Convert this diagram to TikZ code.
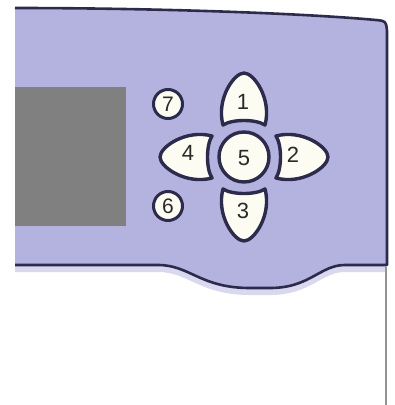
\documentclass[tikz,border=0pt]{standalone}
\usepackage{fontspec}
\setmainfont{Liberation Sans}
\definecolor{panel}{HTML}{B4B2DF}
\definecolor{panelshadow}{HTML}{D9D8EE}
\definecolor{edge}{HTML}{2C2B4C}
\definecolor{btn}{HTML}{FDFCF2}
\definecolor{screen}{HTML}{808080}
\definecolor{digit}{HTML}{2A2A2A}
\tikzset{
  btnline/.style={draw=edge, line width=3.4pt, fill=btn, line join=round},
  digitlabel/.style={text=digit, font=\fontsize{22}{22}\selectfont, inner sep=0pt},
  smalldigit/.style={text=digit, font=\fontsize{21}{21}\selectfont, inner sep=0pt},
}
\newcommand{\petalpath}{(-21,-32) .. controls (-28,-58) and (-10,-84) .. (0,-84) .. controls (10,-84) and (28,-58) .. (21,-32) .. controls (12,-38) and (-12,-38) .. cycle}
\begin{document}
\begin{tikzpicture}[x=1pt,y=-1pt]
\useasboundingbox (0,0) rectangle (395,405);
% shadow under bottom edge
\draw[panelshadow, line width=6pt] (15,269) -- (158,269) .. controls (190,269) and (200,292) .. (250,292) -- (270,292) .. controls (310,292) and (320,269) .. (345,269) -- (386,269);
% panel fill
\fill[panel] (15,8) .. controls (150,8) and (300,13) .. (376,20) .. controls (386,21) .. (387,31) -- (387,265) -- (345,265) .. controls (320,265) and (310,288) .. (270,288) -- (250,288) .. controls (200,288) and (190,265) .. (158,265) -- (15,265) -- cycle;
% panel outline (no left edge)
\draw[edge, line width=2.6pt, line join=round] (15,265) -- (158,265) .. controls (190,265) and (200,288) .. (250,288) -- (270,288) .. controls (310,288) and (320,265) .. (345,265) -- (387,265) -- (387,31) .. controls (386,21) .. (376,20) .. controls (300,13) and (150,8) .. (15,8);
% grey line below
\draw[gray!85, line width=1.5pt] (386,267) -- (386,405);
% screen
\fill[screen] (15,87) rectangle (126,226);
% D-pad
\begin{scope}[shift={(244,157)}]
  \draw[btnline] \petalpath;
  \draw[btnline, rotate=90] \petalpath;
  \draw[btnline, rotate=180] \petalpath;
  \draw[btnline, rotate=270] \petalpath;
  \draw[btnline] (0,0) circle[radius=25];
\end{scope}
\node[digitlabel] (b1) at (243,102) {1};
\node[digitlabel] (b2) at (293,155) {2};
\node[digitlabel] (b3) at (243,211) {3};
\node[digitlabel] (b4) at (188,153) {4};
\node[digitlabel] (b5) at (244,158) {5};
% small buttons
\draw[btnline, line width=3pt] (168,104) circle[radius=14.5];
\draw[btnline, line width=3pt] (168,206) circle[radius=14.5];
\node[smalldigit] (b7) at (168,104) {7};
\node[smalldigit] (b6) at (168,206) {6};
\end{tikzpicture}
\end{document}
